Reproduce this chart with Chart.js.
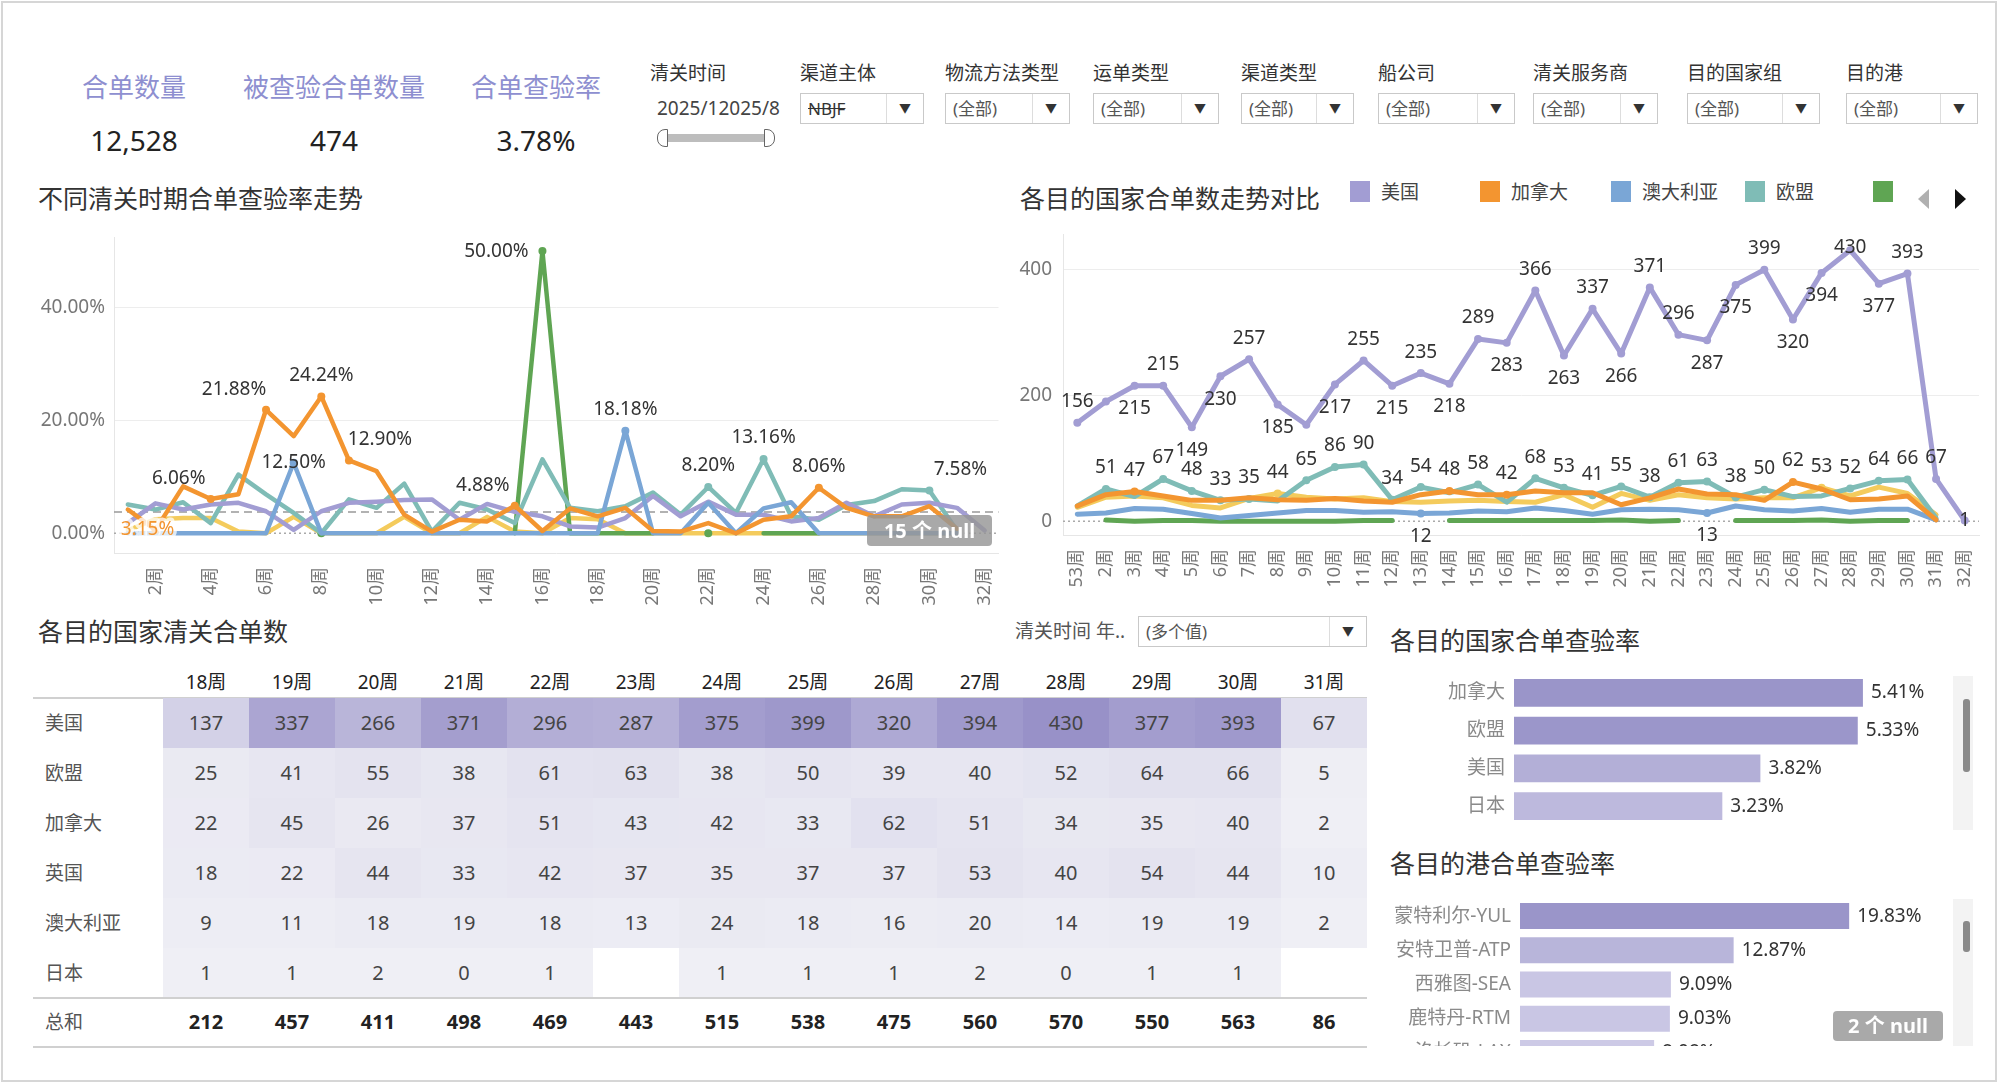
<!DOCTYPE html>
<html>
<head>
<meta charset="utf-8">
<script src="https://cdn.jsdelivr.net/npm/chart.js@4.4.1/dist/chart.umd.min.js"></script>
<style>
  body { margin: 0; background: #fff; font-family: "Noto Sans", "Noto Sans CJK SC", sans-serif; }
  #dash { position: relative; width: 2000px; height: 1083px; overflow: hidden; }
  .frame { position: absolute; left: 1px; top: 1px; width: 1992px; height: 1077px; border: 2px solid #d6d6d6; }
  .kpi-t { position: absolute; top: 70px; width: 260px; margin-left: -130px; text-align: center; font-size: 26px; color: #8e8fd0; line-height: 34px; }
  .kpi-v { position: absolute; top: 123px; width: 200px; margin-left: -100px; text-align: center; font-size: 28px; color: #222; line-height: 34px; }
  .flabel { position: absolute; top: 60px; font-size: 19px; color: #333; line-height: 26px; white-space: nowrap; }
  .dd { position: absolute; top: 93px; height: 29px; border: 1px solid #c9c9c9; background: #fff; font-size: 17px; color: #555; line-height: 29px; }
  .dd span { position: absolute; left: 7px; top: 0; }
  .dd i { position: absolute; right: 0; top: 0; width: 36px; height: 29px; border-left: 1px solid #ddd; font-style: normal; text-align: center; font-size: 12px; color: #333; }
  .title { position: absolute; font-size: 25px; color: #333; line-height: 32px; white-space: nowrap; }
  .lg-box { position: absolute; top: 181px; width: 20px; height: 21px; }
  .lg-txt { position: absolute; top: 179px; font-size: 19px; color: #444; line-height: 26px; }
  .null-badge { position: absolute; background: rgba(150,150,150,0.82); color: #fff; font-weight: bold; font-size: 20px; text-align: center; border-radius: 4px; }
  canvas { position: absolute; }
  .cell { position: absolute; height: 50px; line-height: 50px; text-align: center; font-size: 20px; color: #444; }
  .rowlab { position: absolute; left: 45px; height: 50px; line-height: 50px; font-size: 19px; color: #555; }
  .hline { position: absolute; left: 33px; width: 1334px; height: 2px; background: #d0d0d0; }
  .scroll { position: absolute; background: #f3f3f3; }
  .thumb { position: absolute; background: #8a8a8a; border-radius: 3px; }
</style>
</head>
<body>
<div id="dash">
  <div class="frame"></div>

  <!-- KPI -->
  <div class="kpi-t" style="left:134px">合单数量</div>
  <div class="kpi-t" style="left:334px">被查验合单数量</div>
  <div class="kpi-t" style="left:536px">合单查验率</div>
  <div class="kpi-v" style="left:134px">12,528</div>
  <div class="kpi-v" style="left:334px">474</div>
  <div class="kpi-v" style="left:536px">3.78%</div>

  <!-- filters -->
  <div class="flabel" style="left:650px">清关时间</div>
  <div class="flabel" style="left:657px;top:95px;color:#444">2025/12025/8</div>
  <div style="position:absolute;left:664px;top:134px;width:104px;height:8px;background:#bdbdbd"></div>
  <div style="position:absolute;left:657px;top:129px;width:9px;height:16px;border:1px solid #666;border-radius:8px 0 0 8px;background:#fff"></div>
  <div style="position:absolute;left:764px;top:129px;width:9px;height:16px;border:1px solid #666;border-radius:0 8px 8px 0;background:#fff"></div>
  <div id="filters"></div>

  <!-- titles -->
  <div class="title" style="left:38px;top:182px">不同清关时期合单查验率走势</div>
  <div class="title" style="left:1020px;top:182px">各目的国家合单数走势对比</div>
  <div id="legend"></div>
  <div style="position:absolute;left:1918px;top:189px;width:0;height:0;border-top:10px solid transparent;border-bottom:10px solid transparent;border-right:11px solid #b0b0b0"></div>
  <div style="position:absolute;left:1955px;top:189px;width:0;height:0;border-top:10px solid transparent;border-bottom:10px solid transparent;border-left:11px solid #111"></div>

  <canvas id="rateChart" width="985" height="380" style="left:20px;top:225px"></canvas>
  <div class="null-badge" style="left:867px;top:515px;width:125px;height:31px;line-height:31px">15 个 null</div>
  <canvas id="countChart" width="985" height="375" style="left:1005px;top:225px"></canvas>

  <!-- table -->
  <div class="title" style="left:38px;top:615px">各目的国家清关合单数</div>
  <div class="flabel" style="left:1015px;top:618px;color:#555">清关时间 年..</div>
  <div class="dd" style="left:1138px;top:616px;width:227px"><span>(多个值)</span><i>▼</i></div>
  <div id="table"></div>

  <!-- bars -->
  <div class="title" style="left:1390px;top:624px">各目的国家合单查验率</div>
  <div class="scroll" style="left:1953px;top:676px;width:20px;height:154px"></div>
  <div class="thumb" style="left:1963px;top:699px;width:7px;height:73px"></div>
  <canvas id="countryBar" width="600" height="155" style="left:1390px;top:672px"></canvas>

  <div class="title" style="left:1390px;top:847px">各目的港合单查验率</div>
  <div class="scroll" style="left:1953px;top:899px;width:20px;height:147px"></div>
  <div class="thumb" style="left:1963px;top:921px;width:7px;height:31px"></div>
  <div style="position:absolute;left:1390px;top:897px;width:600px;height:149px;overflow:hidden">
    <canvas id="portBar" width="600" height="175" style="left:0;top:0"></canvas>
  </div>
  <div class="null-badge" style="left:1833px;top:1011px;width:110px;height:30px;line-height:30px">2 个 null</div>
</div>

<script>
// Week labels (x axis of both line charts)
const weeks = ["53周", "2周", "3周", "4周", "5周", "6周", "7周", "8周", "9周", "10周",
  "11周", "12周", "13周", "14周", "15周", "16周", "17周", "18周", "19周", "20周",
  "21周", "22周", "23周", "24周", "25周", "26周", "27周", "28周", "29周", "30周",
  "31周", "32周"];

// Inspection rate by week (%)
const rateCA = [4.2, 0.6, 8.3, 6.06, 6.9, 21.88, 17.2, 24.24, 12.90, 11.0, 3.3, 0.3, 2.4, 2.1, 4.88, 0.4,
  4.4, 3.0, 4.5, 0.4, 0.3, 1.8, 0, 2.4, 3.0, 8.06, 4.5, 3.0, 3.0, 4.8, 0.8, null];
const rateAU = [0, 0, 0, 0, 0, 0, 12.50, 0, 0, 0, 0, 0, 0, 0, 0, 0,
  0, 0, 18.18, 0, 0, 5.4, 0, 4.4, 5.5, 0, 0, 0, 0, 0, 0, null];
const rateUS = [1.8, 5.3, 4.2, 5.1, 5.4, 3.9, 0.6, 3.9, 5.4, 5.6, 5.9, 6.0, 2.4, 5.2, 3.8, 3.0,
  1.2, 1.0, 2.7, 6.6, 3.0, 5.6, 3.3, 3.3, 2.1, 2.7, 5.4, 3.0, 5.1, 5.4, 4.5, 0.5];
const rateEU = [5.1, 4.2, 5.5, 1.8, 10.4, 6.9, 3.6, 0, 6.0, 4.5, 8.8, 0.3, 5.4, 4.2, 1.8, 13.1,
  4.5, 3.9, 4.8, 7.2, 3.3, 8.20, 3.6, 13.16, 3.0, 2.4, 5.0, 5.7, 7.8, 7.58, 0.5, null];
const rateJP = [null, null, null, null, null, null, null, 0, null, null, null, null, null, null, 0, 50.00,
  0, 0, 0, 0, null, 0, null, 0, 0, 0, null, null, null, null, null, null];
const rateUK = [0.5, 2.5, 2.7, 2.7, 0.3, 0, 2.9, 0, 0, 0, 2.9, 0, 0, 2.9, 0.3, 0,
  2.7, 2.5, 0, 0, 0, 0, 0, 0, 0, 0, 0, 0, 0, 0, 0, null];
const avgRate = 3.78;

// Order counts by week
const countUS = [156, 190, 215, 215, 149, 230, 257, 185, 153, 217, 255, 215, 235, 218, 289, 283,
  366, 263, 337, 266, 371, 296, 287, 375, 399, 320, 394, 430, 377, 393, 67, 1];
const countCA = [24, 42, 47, 40, 33, 33, 37, 34, 33, 36, 32, 30, 42, 48, 42, 42,
  48, 45, 45, 26, 37, 51, 43, 42, 33, 62, 51, 34, 35, 40, 2, null];
const countEU = [24, 51, 39, 67, 48, 33, 35, 32, 65, 86, 90, 34, 54, 45, 58, 30,
  68, 53, 41, 55, 38, 61, 63, 38, 50, 39, 40, 52, 64, 66, 5, null];
const countUK = [22, 38, 40, 37, 25, 21, 36, 44, 38, 35, 37, 31, 30, 32, 33, 31,
  30, 42, 22, 44, 33, 42, 37, 35, 37, 37, 53, 40, 54, 44, 10, null];
const countAU = [11, 13, 20, 19, 12, 5, 9, 13, 17, 17, 14, 15, 12, 13, 16, 15,
  21, 17, 11, 18, 19, 18, 13, 24, 18, 16, 20, 14, 19, 19, 2, null];
const countJP = [null, 2, 0, 1, 1, 0, 0, 0, 0, 0, 1, 1, null, 1, 1, 1,
  1, 1, 1, 2, 0, 1, null, 1, 1, 1, 2, 0, 1, 1, null, null];

// Table: orders by country, weeks 18-31
const tableWeeks = ["18周", "19周", "20周", "21周", "22周", "23周", "24周", "25周", "26周", "27周", "28周", "29周", "30周", "31周"];
const tableCountries = ["美国", "欧盟", "加拿大", "英国", "澳大利亚", "日本"];
const tblUS = [137, 337, 266, 371, 296, 287, 375, 399, 320, 394, 430, 377, 393, 67];
const tblEU = [25, 41, 55, 38, 61, 63, 38, 50, 39, 40, 52, 64, 66, 5];
const tblCA = [22, 45, 26, 37, 51, 43, 42, 33, 62, 51, 34, 35, 40, 2];
const tblUK = [18, 22, 44, 33, 42, 37, 35, 37, 37, 53, 40, 54, 44, 10];
const tblAU = [9, 11, 18, 19, 18, 13, 24, 18, 16, 20, 14, 19, 19, 2];
const tblJP = [1, 1, 2, 0, 1, null, 1, 1, 1, 2, 0, 1, 1, null];
const tblTotal = [212, 457, 411, 498, 469, 443, 515, 538, 475, 560, 570, 550, 563, 86];

// Inspection rate by country / port
const countryNames = ["加拿大", "欧盟", "美国", "日本"];
const countryRates = [5.41, 5.33, 3.82, 3.23];
const portNames = ["蒙特利尔-YUL", "安特卫普-ATP", "西雅图-SEA", "鹿特丹-RTM", "洛杉矶-LAX"];
const portRates = [19.83, 12.87, 9.09, 9.03, 8.08];

// Filters
const filterNames = ["渠道主体", "物流方法类型", "运单类型", "渠道类型", "船公司", "清关服务商", "目的国家组", "目的港"];
const filterValues = ["NBJF", "(全部)", "(全部)", "(全部)", "(全部)", "(全部)", "(全部)", "(全部)"];

const colors = {
  "美国": "#a29dd3",
  "加拿大": "#f39530",
  "澳大利亚": "#7aa6d6",
  "欧盟": "#7fbcb6",
  "日本": "#5fa553",
  "英国": "#f4cb5c",
};

// labels shown on the line charts: [series, index, placement, text?]
const rateLabels = [
  ["加拿大", 1, "onleft", "3.15%"], ["加拿大", 3, "upleft"], ["加拿大", 5, "upleft"],
  ["加拿大", 7, "above"], ["澳大利亚", 6, "on"], ["加拿大", 8, "upright"],
  ["加拿大", 14, "upleft"], ["日本", 15, "left"], ["澳大利亚", 18, "above"],
  ["欧盟", 21, "above"], ["欧盟", 23, "above"], ["加拿大", 25, "above"], ["欧盟", 29, "upright"],
];
const countLabels = [
  ["美国", 0, "above"], ["美国", 2, "below"], ["美国", 3, "above"], ["美国", 4, "below"],
  ["美国", 5, "below"], ["美国", 6, "above"], ["美国", 7, "below"], ["美国", 9, "below"],
  ["美国", 10, "above"], ["美国", 11, "below"], ["美国", 12, "above"], ["美国", 13, "below"],
  ["美国", 14, "above"], ["美国", 15, "below"], ["美国", 16, "above"], ["美国", 17, "below"],
  ["美国", 18, "above"], ["美国", 19, "below"], ["美国", 20, "above"], ["美国", 21, "above"],
  ["美国", 22, "below"], ["美国", 23, "below"], ["美国", 24, "above"], ["美国", 25, "below"],
  ["美国", 26, "below"], ["美国", 27, "onup"], ["美国", 28, "below"], ["美国", 29, "above"],
  ["美国", 30, "above"], ["美国", 31, "on"],
  ["欧盟", 1, "above"], ["加拿大", 2, "above"], ["欧盟", 3, "above"], ["欧盟", 4, "above"],
  ["欧盟", 5, "above"], ["欧盟", 6, "above"], ["英国", 7, "above"], ["欧盟", 8, "above"],
  ["欧盟", 9, "above"], ["欧盟", 10, "above"], ["欧盟", 11, "above"], ["欧盟", 12, "above"],
  ["澳大利亚", 12, "below"], ["加拿大", 13, "above"], ["欧盟", 14, "above"], ["加拿大", 15, "above"],
  ["欧盟", 16, "above"], ["欧盟", 17, "above"], ["欧盟", 18, "above"], ["欧盟", 19, "above"],
  ["欧盟", 20, "above"], ["欧盟", 21, "above"], ["欧盟", 22, "above"], ["澳大利亚", 22, "below"],
  ["欧盟", 23, "above"], ["欧盟", 24, "above"], ["加拿大", 25, "above"], ["英国", 26, "above"],
  ["欧盟", 27, "above"], ["欧盟", 28, "above"], ["欧盟", 29, "above"],
];

const FONT = '"Noto Sans", "Noto Sans CJK SC", sans-serif';
Chart.defaults.font.family = FONT;
Chart.defaults.animation = false;

const labelOffsets = {
  above: [0, -21], below: [0, 23], on: [0, 0], onleft: [-8, 0], onup: [0, -3],
  upleft: [-32, -20], upright: [31, -21], left: [-46, 0],
};

// draw value labels next to chosen points
const pointLabelPlugin = {
  id: "pointLabels",
  afterDatasetsDraw(chart, args, opts) {
    const ctx = chart.ctx;
    ctx.save();
    ctx.font = "19px " + FONT;
    ctx.textAlign = "center";
    ctx.textBaseline = "middle";
    opts.items.forEach(([name, i, place, text]) => {
      const di = chart.data.datasets.findIndex(d => d.label === name);
      const el = chart.getDatasetMeta(di).data[i];
      const v = chart.data.datasets[di].data[i];
      const off = labelOffsets[place];
      const x = el.x + off[0], y = el.y + off[1];
      if (text) {
        // highlighted label: pale halo behind coloured text
        ctx.strokeStyle = "rgba(255,255,255,0.75)";
        ctx.lineWidth = 7;
        ctx.lineJoin = "round";
        ctx.strokeText(text, x, y);
      }
      ctx.fillStyle = text ? colors[name] : "#333";
      ctx.fillText(text || opts.format(v), x, y);
    });
    ctx.restore();
  }
};

// reference lines (dotted zero, dashed average)
const refLinePlugin = {
  id: "refLines",
  beforeDatasetsDraw(chart, args, opts) {
    const ctx = chart.ctx, a = chart.chartArea, y = chart.scales.y;
    ctx.save();
    opts.lines.forEach(l => {
      const py = y.getPixelForValue(l.value);
      ctx.strokeStyle = l.color;
      ctx.lineWidth = l.width;
      ctx.setLineDash(l.dash);
      ctx.beginPath();
      ctx.moveTo(a.left, py);
      ctx.lineTo(a.right, py);
      ctx.stroke();
    });
    ctx.restore();
  }
};

// fixed axis sizes, without the extra label padding chart.js adds
function fixWidth(w) {
  return s => { s.width = w; s.paddingTop = 0; s.paddingBottom = 0; };
}
function fixHeight(h) {
  return s => { s.height = h; s.paddingLeft = 0; s.paddingRight = 0; };
}

function markerRadius(labels, r) {
  return ctx => {
    const ds = ctx.dataset, i = ctx.dataIndex, d = ds.data;
    if (labels.some(l => l[0] === ds.label && l[1] === i)) return r;
    if (d[i] != null && d[i - 1] == null && d[i + 1] == null) return r;
    return 0;
  };
}

function lineSet(name, data, order, width, labels, radius) {
  return {
    label: name,
    data: data,
    borderColor: colors[name],
    backgroundColor: colors[name],
    pointBackgroundColor: colors[name],
    pointBorderWidth: 0,
    pointRadius: radius || markerRadius(labels, 4),
    borderWidth: width,
    borderJoinStyle: "round",
    borderCapStyle: "round",
    tension: 0,
    spanGaps: false,
    order: order,
  };
}

// ---- header filters and legend ----
const filterLeft = [800, 945, 1093, 1241, 1378, 1533, 1687, 1846];
const filterWidth = [122, 123, 124, 111, 135, 123, 131, 130];
let fhtml = "";
filterNames.forEach((n, k) => {
  const strike = filterValues[k] === "NBJF" ? "text-decoration:line-through;color:#333" : "";
  fhtml += `<div class="flabel" style="left:${filterLeft[k]}px">${n}</div>`;
  fhtml += `<div class="dd" style="left:${filterLeft[k]}px;width:${filterWidth[k]}px"><span style="${strike}">${filterValues[k]}</span><i>▼</i></div>`;
});
document.getElementById("filters").innerHTML = fhtml;

const legendNames = ["美国", "加拿大", "澳大利亚", "欧盟", "日本"];
const legendLeft = [1350, 1480, 1611, 1745, 1873];
let lhtml = "";
legendNames.forEach((n, k) => {
  lhtml += `<div class="lg-box" style="left:${legendLeft[k]}px;background:${colors[n]}"></div>`;
  if (k < 4) lhtml += `<div class="lg-txt" style="left:${legendLeft[k] + 31}px">${n}</div>`;
});
document.getElementById("legend").innerHTML = lhtml;

// ---- rate trend chart ----
new Chart(document.getElementById("rateChart"), {
  type: "line",
  data: {
    labels: weeks,
    datasets: [
      lineSet("加拿大", rateCA, 0, 4.5, rateLabels),
      lineSet("澳大利亚", rateAU, 1, 4.5, rateLabels),
      lineSet("美国", rateUS, 2, 4.5, rateLabels),
      lineSet("欧盟", rateEU, 3, 4.5, rateLabels),
      lineSet("日本", rateJP, 4, 4.5, rateLabels),
      lineSet("英国", rateUK, 5, 4.5, rateLabels),
    ],
  },
  options: {
    responsive: false,
    layout: { padding: { top: 12, right: 6.5 } },
    plugins: {
      legend: { display: false },
      tooltip: { enabled: false },
      pointLabels: { items: rateLabels, format: v => v.toFixed(2) + "%" },
      refLines: { lines: [
        { value: 0, color: "#aaa", width: 1.5, dash: [2, 3] },
        { value: avgRate, color: "#999", width: 1.5, dash: [8, 5] },
      ] },
    },
    scales: {
      x: {
        offset: true,
        grid: { display: false },
        border: { color: "#e6e6e6" },
        afterFit: fixHeight(52),
        ticks: {
          autoSkip: false, maxRotation: 90, minRotation: 90, color: "#777", font: { size: 18 }, padding: 6,
          callback: function (v, i) { return i % 2 === 1 ? this.getLabelForValue(v) : ""; },
        },
      },
      y: {
        min: -3.5, max: 52.5,
        border: { color: "#e6e6e6" },
        grid: { drawTicks: false, color: c => c.tick.value === 0 ? "rgba(0,0,0,0)" : "#ededed" },
        afterFit: fixWidth(94),
        ticks: { stepSize: 20, includeBounds: false, padding: 9, color: "#777", font: { size: 19 },
          callback: v => v.toFixed(2) + "%" },
      },
    },
  },
  plugins: [pointLabelPlugin, refLinePlugin],
});

// ---- order count chart ----
new Chart(document.getElementById("countChart"), {
  type: "line",
  data: {
    labels: weeks,
    datasets: [
      lineSet("美国", countUS, 0, 5, countLabels, 4),
      lineSet("加拿大", countCA, 1, 5, countLabels),
      lineSet("欧盟", countEU, 2, 5, countLabels),
      lineSet("英国", countUK, 3, 5, countLabels),
      lineSet("澳大利亚", countAU, 4, 5, countLabels),
      lineSet("日本", countJP, 5, 5, countLabels),
    ],
  },
  options: {
    responsive: false,
    layout: { padding: { top: 9.5, right: 11 } },
    plugins: {
      legend: { display: false },
      tooltip: { enabled: false },
      pointLabels: { items: countLabels, format: v => String(v) },
      refLines: { lines: [{ value: 0, color: "#aaa", width: 1.5, dash: [2, 3] }] },
    },
    scales: {
      x: {
        offset: true,
        grid: { display: false },
        border: { color: "#e6e6e6" },
        afterFit: fixHeight(65),
        ticks: { autoSkip: false, maxRotation: 90, minRotation: 90, color: "#777", font: { size: 18 }, padding: 6 },
      },
      y: {
        min: -22, max: 455,
        border: { color: "#e6e6e6" },
        grid: { drawTicks: false, color: c => c.tick.value === 0 ? "rgba(0,0,0,0)" : "#ededed" },
        afterFit: fixWidth(58),
        ticks: { stepSize: 200, includeBounds: false, padding: 11, color: "#777", font: { size: 19 } },
      },
    },
  },
  plugins: [pointLabelPlugin, refLinePlugin],
});

// ---- heat table ----
function mix(a, b, t) {
  return "rgb(" + a.map((c, k) => Math.round(c + (b[k] - c) * t)).join(",") + ")";
}
function heatColor(v) {
  return mix([239, 239, 245], [152, 145, 200], v / 430);
}
const tableData = [tblUS, tblEU, tblCA, tblUK, tblAU, tblJP];
let thtml = "";
tableWeeks.forEach((w, j) => {
  thtml += `<div class="cell" style="left:${163 + 86 * j}px;top:657px;width:86px;color:#222;font-size:19px">${w}</div>`;
});
thtml += `<div class="hline" style="top:697px"></div>`;
tableCountries.forEach((n, r) => {
  const top = 698 + 50 * r;
  thtml += `<div class="rowlab" style="top:${top}px">${n}</div>`;
  tableData[r].forEach((v, j) => {
    if (v == null) return;
    thtml += `<div class="cell" style="left:${163 + 86 * j}px;top:${top}px;width:86px;background:${heatColor(v)}">${v}</div>`;
  });
});
thtml += `<div class="hline" style="top:997px"></div>`;
thtml += `<div class="rowlab" style="top:997px">总和</div>`;
tblTotal.forEach((v, j) => {
  thtml += `<div class="cell" style="left:${163 + 86 * j}px;top:997px;width:86px;font-weight:bold;color:#222">${v}</div>`;
});
thtml += `<div class="hline" style="top:1046px"></div>`;
document.getElementById("table").innerHTML = thtml;

// ---- horizontal bar charts ----
function barColor(values) {
  const max = Math.max(...values);
  return values.map(v => mix([240, 239, 250], [154, 149, 201], v / max));
}
const barValuePlugin = {
  id: "barValues",
  afterDatasetsDraw(chart) {
    const ctx = chart.ctx, meta = chart.getDatasetMeta(0);
    ctx.save();
    ctx.font = "19px " + FONT;
    ctx.fillStyle = "#333";
    ctx.textBaseline = "middle";
    meta.data.forEach((bar, i) => {
      ctx.fillText(chart.data.datasets[0].data[i].toFixed(2) + "%", bar.x + 8, bar.y);
    });
    ctx.restore();
  }
};
function barChart(id, names, values, max, labelWidth, barPct) {
  return new Chart(document.getElementById(id), {
    type: "bar",
    data: {
      labels: names,
      datasets: [{ data: values, backgroundColor: barColor(values), barPercentage: barPct, categoryPercentage: 1 }],
    },
    options: {
      indexAxis: "y",
      responsive: false,
      layout: { padding: { top: 2, bottom: 2, right: 60 } },
      plugins: { legend: { display: false }, tooltip: { enabled: false } },
      scales: {
        x: { display: false, min: 0, max: max },
        y: {
          grid: { display: false, drawTicks: false },
          border: { display: false },
          afterFit: fixWidth(labelWidth),
          ticks: { color: "#8a8a8a", font: { size: 19 }, padding: 9 },
        },
      },
    },
    plugins: [barValuePlugin],
  });
}
barChart("countryBar", countryNames, countryRates, 6.45, 124, 0.74);
barChart("portBar", portNames, portRates, 24.7, 130, 0.76);
</script>
</body>
</html>
